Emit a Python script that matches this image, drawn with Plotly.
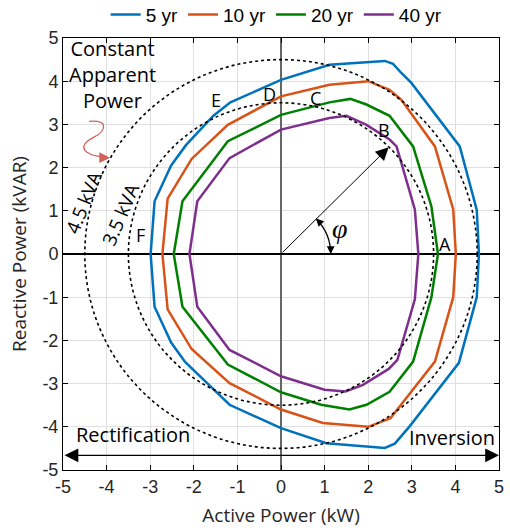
import plotly.graph_objects as go

# ---- data (P: active power kW, Q: reactive power kVAR) ----
series_names = ["5 yr", "10 yr", "20 yr", "40 yr"]
series_colors = ["#0072BD", "#D95319", "#008000", "#7E2F8E"]

p_5yr = [4.54, 4.49, 4.10, 2.99, 2.76, 2.57, 2.38, 1.11, 0.00, -1.16, -1.55, -2.18, -2.52, -2.90, -2.99,
         -2.90, -2.52, -2.20, -1.18, 0.00, 1.04, 2.38, 2.61, 2.95, 4.08, 4.49, 4.54]
q_5yr = [0.00, 1.02, 2.49, 3.96, 4.19, 4.40, 4.47, 4.38, 4.03, 3.51, 3.20, 2.52, 2.05, 1.22, 0.00,
         -1.22, -2.05, -2.50, -3.49, -4.03, -4.38, -4.49, -4.39, -3.99, -2.52, -1.00, 0.00]

p_10yr = [4.01, 3.95, 3.53, 2.76, 2.49, 2.00, 1.11, 0.00, -1.22, -2.05, -2.60, -2.72,
          -2.60, -2.05, -1.18, 0.00, 0.96, 2.00, 2.51, 3.53, 3.95, 4.01]
q_10yr = [0.00, 1.03, 2.49, 3.57, 3.80, 4.00, 3.92, 3.65, 2.99, 2.20, 1.28, 0.00,
          -1.28, -2.20, -2.99, -3.60, -3.91, -4.00, -3.80, -2.49, -1.00, 0.00]

p_20yr = [3.60, 3.45, 3.03, 2.49, 1.96, 1.59, 1.11, 0.00, -1.22, -2.26, -2.46,
          -2.26, -1.22, 0.00, 0.92, 1.57, 1.96, 2.49, 3.03, 3.45, 3.60]
q_20yr = [0.00, 1.10, 2.49, 3.20, 3.46, 3.59, 3.51, 3.22, 2.61, 1.22, 0.00,
          -1.22, -2.56, -3.20, -3.49, -3.60, -3.49, -3.19, -2.49, -1.00, 0.00]

p_40yr = [3.15, 3.07, 2.65, 2.49, 1.96, 1.50, 1.11, 0.00, -1.18, -1.92, -2.10,
          -1.92, -1.18, 0.00, 1.00, 1.48, 1.88, 2.47, 2.67, 3.07, 3.15]
q_40yr = [0.00, 1.03, 2.49, 2.65, 2.99, 3.20, 3.15, 2.88, 2.22, 1.22, 0.00,
          -1.22, -2.22, -2.83, -3.14, -3.18, -3.03, -2.66, -2.45, -1.05, 0.00]

series_p = [p_5yr, p_10yr, p_20yr, p_40yr]
series_q = [q_5yr, q_10yr, q_20yr, q_40yr]

circle_radii = [4.5, 3.5]  # kVA
tick_vals = [-5, -4, -3, -2, -1, 0, 1, 2, 3, 4, 5]
point_labels = ["A", "B", "C", "D", "E", "F"]
point_label_x = [3.76, 2.36, 0.79, -0.26, -1.50, -3.23]
point_label_y = [0.24, 2.88, 3.60, 3.70, 3.56, 0.44]

TICKFONT = "Arial, Liberation Sans, sans-serif"
TEXTFONT = "Open Sans, sans-serif"

fig = go.Figure()

for name, col, p, q in zip(series_names, series_colors, series_p, series_q):
    fig.add_trace(go.Scatter(x=p, y=q, mode="lines", name=name,
                             line=dict(color=col, width=2.5)))

shapes = []
for r in circle_radii:
    shapes.append(dict(type="circle", xref="x", yref="y", x0=-r, y0=-r, x1=r, y1=r,
                       line=dict(color="black", width=1.6, dash="dot"), layer="above"))
# angle arc
shapes.append(dict(type="path", xref="x", yref="y",
                   path="M 1.14,0 Q 1.14,0.47 0.81,0.81",
                   line=dict(color="black", width=1.3)))
# red curly arrow
shapes.append(dict(type="path", xref="x", yref="y",
                   path="M -4.40,3.07 C -3.95,3.12 -4.00,2.85 -4.30,2.70 C -4.72,2.48 -4.50,2.28 -4.05,2.24",
                   line=dict(color="#d0605a", width=1.2)))

annotations = []
# arrow from origin to B
annotations.append(dict(x=2.47, y=2.47, ax=0, ay=0, xref="x", yref="y", axref="x", ayref="y",
                        showarrow=True, arrowhead=2, arrowsize=2.6, arrowwidth=1, arrowcolor="black", text=""))
# arc arrowheads
annotations.append(dict(x=1.14, y=0.0, ax=0, ay=-6, xref="x", yref="y",
                        showarrow=True, arrowhead=2, arrowsize=1.3, arrowwidth=1.2, arrowcolor="black", text=""))
annotations.append(dict(x=0.80, y=0.82, ax=5, ay=5, xref="x", yref="y",
                        showarrow=True, arrowhead=2, arrowsize=1.3, arrowwidth=1.2, arrowcolor="black", text=""))
# red arrow head
annotations.append(dict(x=-3.92, y=2.23, ax=-8, ay=0, xref="x", yref="y",
                        showarrow=True, arrowhead=2, arrowsize=1.8, arrowwidth=1.2, arrowcolor="#d0605a", text=""))
# double arrow Rectification/Inversion
annotations.append(dict(x=5.0, y=-4.66, ax=-5.0, ay=-4.66, xref="x", yref="y", axref="x", ayref="y",
                        showarrow=True, arrowhead=2, startarrowhead=2, arrowside="end+start",
                        arrowsize=2.3, startarrowsize=2.3, arrowwidth=1.2, arrowcolor="black", text=""))
# phi
annotations.append(dict(x=1.36, y=0.58, xref="x", yref="y", text="<i>φ</i>", showarrow=False,
                        font=dict(family="Liberation Serif, serif", size=28, color="black")))
for lbl, lx, ly in zip(point_labels, point_label_x, point_label_y):
    annotations.append(dict(x=lx, y=ly, xref="x", yref="y", text=lbl, showarrow=False,
                            font=dict(family=TEXTFONT, size=18, color="black")))
annotations.append(dict(x=-3.87, y=4.15, xref="x", yref="y",
                        text="Constant<br>Apparent<br>Power", showarrow=False, align="center",
                        font=dict(family=TEXTFONT, size=20, color="black")))
annotations.append(dict(x=-4.52, y=1.20, xref="x", yref="y", text="4.5 kVA", showarrow=False,
                        textangle=-68, font=dict(family=TEXTFONT, size=19, color="black")))
annotations.append(dict(x=-3.67, y=0.92, xref="x", yref="y", text="3.5 kVA", showarrow=False,
                        textangle=-67, font=dict(family=TEXTFONT, size=19, color="black")))
annotations.append(dict(x=-3.39, y=-4.18, xref="x", yref="y", text="Rectification", showarrow=False,
                        font=dict(family=TEXTFONT, size=20, color="black")))
annotations.append(dict(x=3.92, y=-4.25, xref="x", yref="y", text="Inversion", showarrow=False,
                        font=dict(family=TEXTFONT, size=20, color="black")))

axis_common = dict(range=[-5, 5], tickmode="array", tickvals=tick_vals,
                   ticktext=[str(v) for v in tick_vals],
                   showgrid=True, gridcolor="#e0e0e0", gridwidth=1,
                   showline=True, linecolor="black", linewidth=1, mirror="ticks",
                   ticks="inside", ticklen=5, tickcolor="black",
                   tickfont=dict(family=TICKFONT, size=18, color="#262626"),
                   zeroline=True, zerolinewidth=1.5, fixedrange=True)

fig.update_layout(
    width=510, height=531,
    margin=dict(l=63, r=11, t=38, b=61, autoexpand=False),
    paper_bgcolor="white", plot_bgcolor="white",
    shapes=shapes, annotations=annotations,
    showlegend=True,
    legend=dict(orientation="h", x=0.49, xanchor="center", y=1.01, yanchor="bottom",
                font=dict(family=TICKFONT, size=19, color="black"),
                bgcolor="rgba(0,0,0,0)", itemwidth=30, tracegroupgap=0),
    xaxis=dict(**axis_common, zerolinecolor="#666666",
               title=dict(text="Active Power (kW)", standoff=13,
                          font=dict(family=TEXTFONT, size=19, color="#262626"))),
    yaxis=dict(**axis_common, zerolinecolor="black",
               title=dict(text="Reactive Power (kVAR)", standoff=10,
                          font=dict(family=TEXTFONT, size=19, color="#262626"))),
)

fig.write_html("out.html")
